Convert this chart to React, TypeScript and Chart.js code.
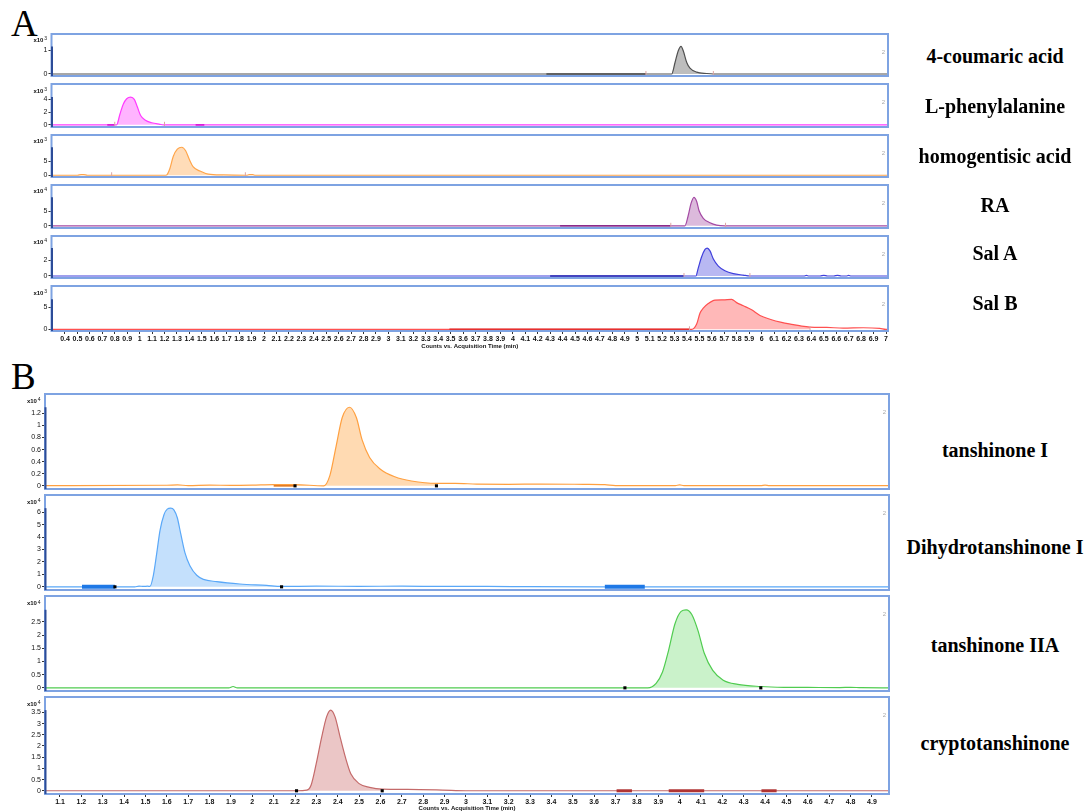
import React, { useEffect, useRef } from "react";
import { Chart, registerables } from "chart.js";

Chart.register(...registerables);

const TICK_FONT = '"Liberation Sans Narrow", "Liberation Sans", Arial, sans-serif';
const LABEL_FONT = '"Liberation Serif", "Times New Roman", serif';

// ---------------- tick labels ----------------
const xTicksA = [0.4, 0.5, 0.6, 0.7, 0.8, 0.9, 1, 1.1, 1.2, 1.3, 1.4, 1.5, 1.6, 1.7, 1.8, 1.9, 2, 2.1, 2.2, 2.3, 2.4, 2.5, 2.6, 2.7, 2.8, 2.9, 3, 3.1, 3.2, 3.3, 3.4, 3.5, 3.6, 3.7, 3.8, 3.9, 4, 4.1, 4.2, 4.3, 4.4, 4.5, 4.6, 4.7, 4.8, 4.9, 5, 5.1, 5.2, 5.3, 5.4, 5.5, 5.6, 5.7, 5.8, 5.9, 6, 6.1, 6.2, 6.3, 6.4, 6.5, 6.6, 6.7, 6.8, 6.9, 7];
const xTicksB = [1.1, 1.2, 1.3, 1.4, 1.5, 1.6, 1.7, 1.8, 1.9, 2, 2.1, 2.2, 2.3, 2.4, 2.5, 2.6, 2.7, 2.8, 2.9, 3, 3.1, 3.2, 3.3, 3.4, 3.5, 3.6, 3.7, 3.8, 3.9, 4, 4.1, 4.2, 4.3, 4.4, 4.5, 4.6, 4.7, 4.8, 4.9];
const xTitle = "Counts vs. Acquisition Time (min)";

const namesA = ["4-coumaric acid", "L-phenylalanine", "homogentisic acid", "RA", "Sal A", "Sal B"];
const namesB = ["tanshinone I", "Dihydrotanshinone I", "tanshinone IIA", "cryptotanshinone"];

// ---------------- panel A series (counts in x10^exp) ----------------
const coumaricTime = [0.29, 4.27, 5.07, 5.277, 5.304, 5.33, 5.352, 5.37, 5.398, 5.424, 5.478, 5.559, 5.612, 7.02];
const coumaricCounts = [0, 0, 0, 0, 0.48, 0.97, 1.15, 0.97, 0.48, 0.24, 0.08, 0.02, 0, 0];
const coumaricYTicks = [0, 1];

const pheTime = [0.29, 0.815, 0.842, 0.869, 0.896, 0.928, 0.957, 0.981, 1.008, 1.043, 1.097, 1.163, 1.19, 7.02];
const pheCounts = [0, 0, 1.7, 3.27, 4.1, 4.35, 4.0, 2.84, 1.46, 0.77, 0.32, 0.08, 0, 0];
const pheYTicks = [0, 2, 4];

const hgaTime = [0.29, 0.5, 0.53, 0.55, 0.58, 1.2, 1.217, 1.244, 1.27, 1.303, 1.338, 1.37, 1.4, 1.431, 1.485, 1.552, 1.672, 1.86, 1.88, 1.91, 1.93, 7.02];
const hgaCounts = [0, 0, 0.25, 0.25, 0, 0, 0.1, 2.5, 6.7, 9.3, 10, 8.75, 5.6, 3.0, 1.5, 0.4, 0.1, 0, 0.2, 0.2, 0, 0];
const hgaYTicks = [0, 5];

const raTime = [0.29, 4.38, 5.27, 5.384, 5.41, 5.432, 5.456, 5.478, 5.498, 5.531, 5.585, 5.638, 5.705, 7.02];
const raCounts = [0, 0, 0, 0, 3.5, 7.5, 9.67, 8.27, 5.0, 2.53, 1.04, 0.24, 0, 0];
const raYTicks = [0, 5];

const salATime = [0.29, 4.3, 5.376, 5.472, 5.49, 5.518, 5.545, 5.563, 5.585, 5.612, 5.652, 5.705, 5.772, 5.852, 5.906, 6.34, 6.36, 6.38, 6.47, 6.5, 6.53, 6.58, 6.61, 6.64, 6.68, 6.7, 6.72, 7.02];
const salACounts = [0, 0, 0, 0, 0.97, 2.44, 3.37, 3.55, 3.19, 2.15, 1.26, 0.67, 0.3, 0.11, 0, 0, 0.07, 0, 0, 0.07, 0, 0, 0.07, 0, 0, 0.07, 0, 0];
const salAYTicks = [0, 2];

const salBTime = [0.29, 3.49, 5.42, 5.438, 5.478, 5.505, 5.531, 5.571, 5.625, 5.692, 5.759, 5.799, 5.853, 5.92, 5.987, 6.067, 6.161, 6.255, 6.322, 6.389, 6.523, 6.656, 6.817, 6.95, 7.0, 7.02];
const salBCounts = [0, 0, 0, 0, 1.2, 3.7, 4.8, 5.85, 6.64, 6.7, 6.8, 6.06, 5.35, 4.43, 3.15, 2.29, 1.56, 1.07, 0.71, 0.5, 0.43, 0.28, 0.36, 0.21, 0, 0];
const salBYTicks = [0, 5];

// ---------------- panel B series (counts in x10^4) ----------------
const tanITime = [1.03, 1.6, 1.65, 1.7, 1.8, 1.9, 2.0, 2.1, 2.2, 2.334, 2.363, 2.392, 2.421, 2.455, 2.487, 2.514, 2.549, 2.598, 2.667, 2.745, 2.862, 2.95, 3.05, 3.2, 3.35, 3.55, 3.65, 3.7, 3.98, 4.0, 4.02, 4.38, 4.4, 4.42, 4.98];
const tanICounts = [0.005, 0.01, 0.015, 0.005, 0.012, 0.008, 0.012, 0.02, 0.02, 0, 0.17, 0.65, 1.13, 1.3, 1.13, 0.76, 0.47, 0.28, 0.15, 0.08, 0.04, 0.04, 0.03, 0.025, 0.03, 0.025, 0.02, 0.005, 0.005, 0.015, 0.005, 0.005, 0.012, 0.005, 0.005];
const tanIYTicks = [0, 0.2, 0.4, 0.6, 0.8, 1, 1.2];

const dhtTime = [1.03, 1.203, 1.357, 1.45, 1.47, 1.49, 1.51, 1.521, 1.537, 1.553, 1.568, 1.587, 1.602, 1.618, 1.633, 1.649, 1.665, 1.685, 1.708, 1.74, 1.771, 1.833, 1.942, 2.067, 2.137, 2.3, 2.5, 2.7, 2.9, 3.1, 3.3, 3.65, 3.837, 4.98];
const dhtCounts = [0, 0, 0, 0, 0.06, 0.03, 0.05, 0.03, 0.93, 2.73, 4.53, 5.82, 6.25, 6.33, 6.2, 5.56, 4.28, 2.73, 1.7, 0.93, 0.6, 0.42, 0.23, 0.11, 0.03, 0.05, 0.04, 0.05, 0.03, 0.04, 0.01, 0, 0, 0];
const dhtYTicks = [0, 1, 2, 3, 4, 5, 6];

const tanIIATime = [1.03, 1.89, 1.91, 1.93, 3.744, 3.851, 3.89, 3.92, 3.949, 3.978, 4.007, 4.031, 4.057, 4.086, 4.115, 4.155, 4.204, 4.272, 4.38, 4.487, 4.6, 4.75, 4.8, 4.85, 4.98];
const tanIIACounts = [0, 0, 0.05, 0, 0, 0, 0.17, 0.6, 1.44, 2.42, 2.9, 2.96, 2.78, 2.17, 1.32, 0.66, 0.29, 0.13, 0.05, 0.02, 0.015, 0.01, 0.02, 0.005, 0];
const tanIIAYTicks = [0, 0.5, 1, 1.5, 2, 2.5];

const cryTime = [1.03, 2.207, 2.255, 2.275, 2.299, 2.324, 2.348, 2.367, 2.387, 2.412, 2.436, 2.461, 2.5, 2.549, 2.608, 2.726, 2.89, 3.0, 4.98];
const cryCounts = [0, 0, 0.03, 0.25, 1.2, 2.36, 3.31, 3.6, 3.31, 2.36, 1.49, 0.76, 0.32, 0.15, 0.07, 0.06, 0.03, 0, 0];
const cryYTicks = [0, 0.5, 1, 1.5, 2, 2.5, 3, 3.5];

// integration markers / highlighted baseline segments (retention times)
const coumaricMarks = [5.07, 5.612];
const pheMarks = [0.8, 1.2];
const hgaMarks = [0.775, 1.85];
const raMarks = [5.27, 5.71];
const salAMarks = [5.376, 5.906];
const salBMarks = [5.42, 6.389];
const tanIMarks = [2.2, 2.862];
const dhtMarks = [1.357, 2.137];
const tanIIAMarks = [3.744, 4.38];
const cryMarks = [2.207, 2.608];

const coumaricSegs: [number, number][] = [[4.27, 5.07]];
const pheSegs: [number, number][] = [[0.74, 0.8], [1.45, 1.52]];
const raSegs: [number, number][] = [[4.38, 5.27]];
const salASegs: [number, number][] = [[4.3, 5.376]];
const salBSegs: [number, number][] = [[3.49, 5.42]];
const tanISegs: [number, number][] = [[2.1, 2.2]];
const dhtSegs: [number, number][] = [[1.203, 1.357], [3.65, 3.837]];
const crySegs: [number, number][] = [[3.705, 3.777], [3.949, 4.115], [4.383, 4.454]];

type Trace = {
  times: number[];
  counts: number[];
  peak: [number, number];
  yTicks: number[];
  exp: string;
  line: string;
  fill: string;
  marks: number[];
  markStyle: "tick" | "square";
  segs: [number, number][];
  segColor: string;
  segWidth: number;
};

const tracesA: Trace[] = [
  { times: coumaricTime, counts: coumaricCounts, peak: [5.277, 5.612], yTicks: coumaricYTicks, exp: "3", line: "#505050", fill: "#bdbdbd", marks: coumaricMarks, markStyle: "tick", segs: coumaricSegs, segColor: "#4a4a4a", segWidth: 1.5 },
  { times: pheTime, counts: pheCounts, peak: [0.815, 1.19], yTicks: pheYTicks, exp: "3", line: "#ff3cff", fill: "#ffb4ff", marks: pheMarks, markStyle: "tick", segs: pheSegs, segColor: "#d81ed8", segWidth: 1.8 },
  { times: hgaTime, counts: hgaCounts, peak: [1.2, 1.672], yTicks: hgaYTicks, exp: "3", line: "#ffa54a", fill: "#ffdcb8", marks: hgaMarks, markStyle: "tick", segs: [], segColor: "#ff8a20", segWidth: 1.5 },
  { times: raTime, counts: raCounts, peak: [5.384, 5.705], yTicks: raYTicks, exp: "4", line: "#a44aa4", fill: "#dcbadc", marks: raMarks, markStyle: "tick", segs: raSegs, segColor: "#8a2a8a", segWidth: 1.5 },
  { times: salATime, counts: salACounts, peak: [5.472, 5.906], yTicks: salAYTicks, exp: "4", line: "#4040dc", fill: "#b8b8f2", marks: salAMarks, markStyle: "tick", segs: salASegs, segColor: "#2626b0", segWidth: 1.5 },
  { times: salBTime, counts: salBCounts, peak: [5.42, 6.389], yTicks: salBYTicks, exp: "3", line: "#ff5050", fill: "#ffb8b8", marks: salBMarks, markStyle: "tick", segs: salBSegs, segColor: "#e43030", segWidth: 1.5 },
];

const tracesB: Trace[] = [
  { times: tanITime, counts: tanICounts, peak: [2.2, 2.862], yTicks: tanIYTicks, exp: "4", line: "#ffa040", fill: "#ffdab2", marks: tanIMarks, markStyle: "square", segs: tanISegs, segColor: "#e07010", segWidth: 1.5 },
  { times: dhtTime, counts: dhtCounts, peak: [1.357, 2.137], yTicks: dhtYTicks, exp: "4", line: "#5aa8f8", fill: "#c4e0fc", marks: dhtMarks, markStyle: "square", segs: dhtSegs, segColor: "#1e78e6", segWidth: 4 },
  { times: tanIIATime, counts: tanIIACounts, peak: [3.744, 4.38], yTicks: tanIIAYTicks, exp: "4", line: "#50cc50", fill: "#caf2ca", marks: tanIIAMarks, markStyle: "square", segs: [], segColor: "#30a030", segWidth: 2 },
  { times: cryTime, counts: cryCounts, peak: [2.207, 2.608], yTicks: cryYTicks, exp: "4", line: "#c46a6a", fill: "#ebc6c6", marks: cryMarks, markStyle: "square", segs: crySegs, segColor: "#b03434", segWidth: 3 },
];

// ---------------- layout ----------------
type Box = { top: number; bottom: number; yMin: number; yMax: number };
const boxesA: Box[] = [
  { top: 31, bottom: 79, yMin: -0.084, yMax: 1.668 },
  { top: 81, bottom: 130, yMin: -0.345, yMax: 6.41 },
  { top: 132, bottom: 180, yMin: -0.625, yMax: 14.375 },
  { top: 182, bottom: 231, yMin: -0.744, yMax: 13.84 },
  { top: 233, bottom: 281, yMin: -0.256, yMax: 5.08 },
  { top: 283, bottom: 331, yMin: -0.383, yMax: 9.83 },
];
const boxesB: Box[] = [
  { top: 392, bottom: 491, yMin: -0.052, yMax: 1.519 },
  { top: 493, bottom: 592, yMin: -0.255, yMax: 7.39 },
  { top: 594, bottom: 693, yMin: -0.12, yMax: 3.483 },
  { top: 695, bottom: 794, yMin: -0.144, yMax: 4.186 },
];
const panelA = { left: 51.5, right: 888, xMin: 0.2915, xMax: 7.016, axisH: 19 };
const panelB = { left: 45, right: 889, xMin: 1.0298, xMax: 4.98, axisH: 18 };
const labelYA = [56, 106, 156, 205, 253, 303];
const labelYB = [450, 547, 645, 743];

const CANVAS_W = 895;

const framePlugin = {
  id: "frame",
  afterDatasetsDraw(chart: any, _args: any, opts: any) {
    const { ctx, chartArea: a, scales } = chart;
    ctx.save();
    ctx.strokeStyle = "#7ea3e2";
    ctx.lineWidth = 2;
    ctx.strokeRect(a.left, a.top, a.right - a.left, a.bottom - a.top);
    const yTop = scales.y.getPixelForValue(opts.axisTop);
    ctx.strokeStyle = "#2c4c98";
    ctx.lineWidth = 2;
    ctx.beginPath();
    ctx.moveTo(a.left + 0.5, a.bottom);
    ctx.lineTo(a.left + 0.5, yTop);
    ctx.stroke();
    // exponent label
    const xr = a.left - 4.5;
    const ey = yTop - 6;
    ctx.fillStyle = "#111";
    ctx.textAlign = "right";
    ctx.textBaseline = "middle";
    ctx.font = `5px ${TICK_FONT}`;
    ctx.fillText(opts.exp, xr, ey - 1.5);
    const w = ctx.measureText(opts.exp).width;
    ctx.font = `bold 6px ${TICK_FONT}`;
    ctx.fillText("x10", xr - w - 0.8, ey);
    // small label at top right
    ctx.fillStyle = "#a8a8a8";
    ctx.font = `6px ${TICK_FONT}`;
    ctx.fillText("2", a.right - 3, a.top + 18);
    ctx.restore();
  },
};

const fmt = (v: number) => String(Number(Number(v).toFixed(1)));

function TracePanel(props: {
  trace: Trace;
  box: Box;
  panel: { left: number; right: number; xMin: number; xMax: number; axisH: number };
  xTicks: number[];
  last: boolean;
}) {
  const { trace, box, panel, xTicks, last } = props;
  const ref = useRef<HTMLCanvasElement | null>(null);
  const padTop = 2;
  const padBottom = last ? 0 : 2;
  const H = box.bottom - box.top + padTop + padBottom + (last ? panel.axisH : 0);

  useEffect(() => {
    const canvas = ref.current;
    if (!canvas) return;
    const pts = trace.times.map((t, i) => ({ x: t, y: trace.counts[i] }));
    const peakPts = pts.filter((p) => p.x >= trace.peak[0] && p.x <= trace.peak[1]);
    const datasets: any[] = [];
    datasets.push({
      data: peakPts,
      borderWidth: 0,
      borderColor: "rgba(0,0,0,0)",
      backgroundColor: trace.fill,
      fill: "origin",
      pointRadius: 0,
      cubicInterpolationMode: "monotone",
      order: 5,
    });
    datasets.push({
      data: pts,
      borderColor: trace.line,
      borderWidth: 1.2,
      pointRadius: 0,
      fill: false,
      cubicInterpolationMode: "monotone",
      order: 4,
    });
    trace.segs.forEach((s) =>
      datasets.push({
        data: [
          { x: s[0], y: 0 },
          { x: s[1], y: 0 },
        ],
        borderColor: trace.segColor,
        borderWidth: trace.segWidth,
        pointRadius: 0,
        fill: false,
        order: 2,
      })
    );
    if (trace.markStyle === "square") {
      datasets.push({
        data: trace.marks.map((t) => ({ x: t, y: 0 })),
        showLine: false,
        pointStyle: "rect",
        pointRadius: 2.2,
        pointBackgroundColor: "#000",
        pointBorderColor: "#000",
        pointBorderWidth: 0,
        order: 0,
      });
    } else {
      datasets.push({
        data: trace.marks.map((t) => ({ x: t, y: 0 })),
        showLine: false,
        pointStyle: "line",
        pointRotation: 90,
        pointRadius: 3,
        pointBorderColor: "#dca4a4",
        pointBorderWidth: 1,
        order: 0,
      });
    }

    const axisTop = Math.max(...trace.counts);
    const chart = new Chart(canvas, {
      type: "line",
      data: { datasets },
      plugins: [framePlugin as any],
      options: {
        animation: false,
        responsive: false,
        maintainAspectRatio: false,
        events: [],
        layout: { padding: { top: padTop, bottom: padBottom, left: 0, right: CANVAS_W - panel.right } },
        plugins: {
          legend: { display: false },
          tooltip: { enabled: false },
          frame: { axisTop, exp: trace.exp },
        } as any,
        scales: {
          x: {
            type: "linear",
            min: panel.xMin,
            max: panel.xMax,
            display: last,
            afterBuildTicks: (s: any) => {
              s.ticks = xTicks.map((v) => ({ value: v }));
            },
            afterFit: (s: any) => {
              if (last) s.height = panel.axisH;
              s.paddingLeft = 0;
              s.paddingRight = 0;
            },
            ticks: {
              autoSkip: false,
              maxRotation: 0,
              minRotation: 0,
              padding: 1,
              color: "#111",
              font: { size: 7, family: TICK_FONT, weight: "bold" },
              callback: (v: any) => fmt(v),
            },
            grid: { drawOnChartArea: false, drawTicks: true, tickLength: 3, color: "#333" },
            border: { display: false },
            title: {
              display: true,
              text: xTitle,
              color: "#111",
              font: { size: 6, family: TICK_FONT, weight: "bold" },
              padding: { top: 0, bottom: 0 },
            },
          },
          y: {
            type: "linear",
            min: box.yMin,
            max: box.yMax,
            afterBuildTicks: (s: any) => {
              s.ticks = trace.yTicks.map((v) => ({ value: v }));
            },
            afterFit: (s: any) => {
              s.width = panel.left;
              s.paddingTop = 0;
              s.paddingBottom = 0;
            },
            ticks: {
              padding: 1,
              color: "#111",
              font: { size: 7, family: TICK_FONT },
              callback: (v: any) => String(v),
            },
            grid: { drawOnChartArea: false, drawTicks: true, tickLength: 3, color: "#333" },
            border: { display: false },
          },
        },
      } as any,
    });
    return () => chart.destroy();
  }, []);

  return (
    <canvas
      ref={ref}
      width={CANVAS_W}
      height={H}
      style={{ position: "absolute", left: 0, top: box.top - padTop, width: CANVAS_W, height: H }}
    />
  );
}

export default function App() {
  const labelStyle = (y: number): React.CSSProperties => ({
    position: "absolute",
    left: 995,
    top: y,
    transform: "translate(-50%, -50%)",
    whiteSpace: "nowrap",
    fontFamily: LABEL_FONT,
    fontWeight: "bold",
    fontSize: 20,
    lineHeight: 1,
    color: "#000",
    zIndex: 2,
  });
  const letterStyle = (y: number): React.CSSProperties => ({
    position: "absolute",
    left: 11,
    top: y,
    fontFamily: LABEL_FONT,
    fontSize: 37,
    lineHeight: 1,
    color: "#000",
  });
  return (
    <div style={{ position: "absolute", left: 0, top: 0, width: 1089, height: 811, background: "#fff", overflow: "hidden" }}>
      <div style={letterStyle(5)}>A</div>
      <div style={letterStyle(358)}>B</div>
      {tracesA.map((t, i) => (
        <TracePanel key={"a" + i} trace={t} box={boxesA[i]} panel={panelA} xTicks={xTicksA} last={i === tracesA.length - 1} />
      ))}
      {tracesB.map((t, i) => (
        <TracePanel key={"b" + i} trace={t} box={boxesB[i]} panel={panelB} xTicks={xTicksB} last={i === tracesB.length - 1} />
      ))}
      {namesA.map((n, i) => (
        <div key={"na" + i} style={labelStyle(labelYA[i])}>{n}</div>
      ))}
      {namesB.map((n, i) => (
        <div key={"nb" + i} style={labelStyle(labelYB[i])}>{n}</div>
      ))}
    </div>
  );
}
